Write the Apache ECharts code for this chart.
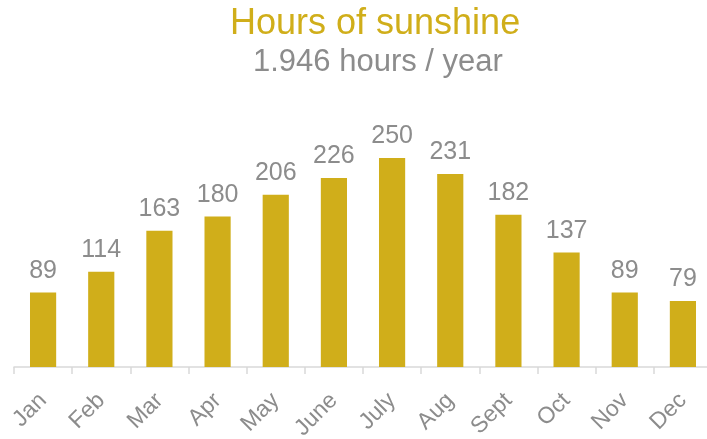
<!DOCTYPE html>
<html>
<head>
<meta charset="utf-8">
<script src="https://cdn.jsdelivr.net/npm/echarts@6/dist/echarts.min.js"></script>
<style>
  html, body { margin: 0; padding: 0; background: #fff; }
  #chart { width: 707px; height: 439px; }
</style>
</head>
<body>
<div id="chart"></div>
<script>
const months = ['Jan', 'Feb', 'Mar', 'Apr', 'May', 'June', 'July', 'Aug', 'Sept', 'Oct', 'Nov', 'Dec']
const hours = [89, 114, 163, 180, 206, 226, 250, 231, 182, 137, 89, 79]
const titleText = 'Hours of sunshine'
const subText = '1.946 hours / year'

const gold = '#D0AE1A'
const grey = '#8C8C8C'
const font = '"Liberation Sans", Arial, sans-serif'

const c = echarts.init(document.getElementById('chart'))
c.setOption({
  animation: false,
  textStyle: { fontFamily: font },
  title: [
    {
      text: titleText,
      left: 225,
      top: 1,
      textStyle: { color: gold, fontSize: 36, fontWeight: 'normal', fontFamily: font },
    },
    {
      text: subText,
      left: 248,
      top: 42,
      textStyle: { color: grey, fontSize: 31, fontWeight: 'normal', fontFamily: font },
    },
  ],
  grid: { left: 14, right: -5, top: 158, bottom: 72, containLabel: false, outerBoundsMode: 'none' },
  xAxis: {
    type: 'category',
    data: months,
    axisLine: { lineStyle: { color: '#D9D9D9', width: 1.5 } },
    axisTick: { show: true, length: 7, lineStyle: { color: '#D9D9D9', width: 1.5 } },
    axisLabel: { color: grey, fontSize: 23, rotate: 45, margin: 30, interval: 0, fontFamily: font },
  },
  yAxis: {
    type: 'value',
    min: 0,
    max: 250,
    show: false,
  },
  series: [
    {
      type: 'bar',
      data: hours,
      barWidth: '45%',
      itemStyle: { color: gold },
      label: {
        show: true,
        position: 'top',
        distance: 9,
        color: grey,
        fontSize: 25,
        fontFamily: font,
      },
    },
  ],
})
</script>
</body>
</html>
